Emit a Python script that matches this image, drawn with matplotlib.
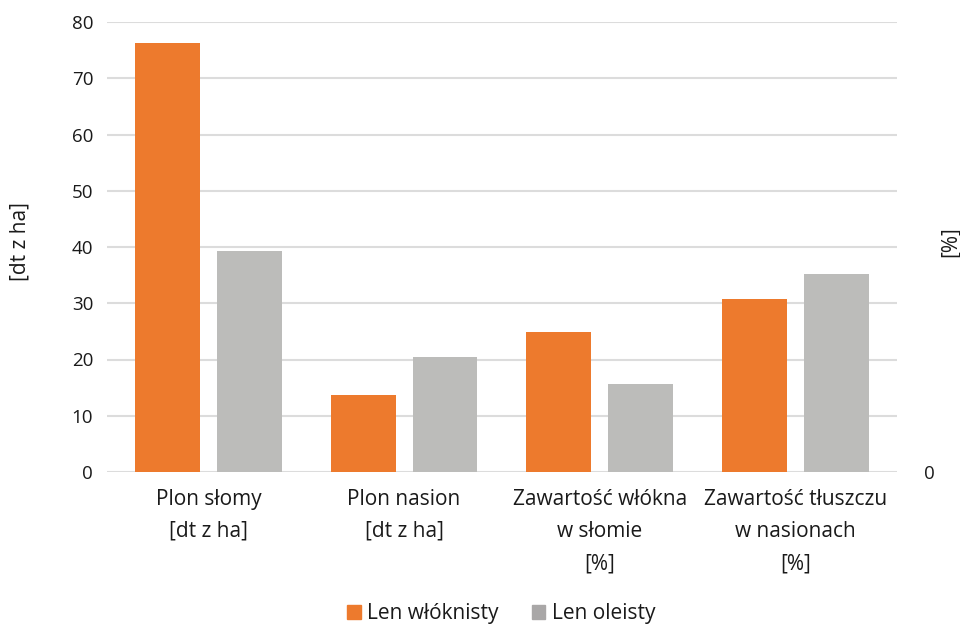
import matplotlib
matplotlib.use("Agg")
import matplotlib.pyplot as plt
from matplotlib.patches import Patch
import numpy as np

plt.rcParams['font.family'] = ['Open Sans', 'DejaVu Sans']

categories = ["Plon słomy\n[dt z ha]", "Plon nasion\n[dt z ha]",
              "Zawartość włókna\nw słomie\n[%]", "Zawartość tłuszczu\nw nasionach\n[%]"]
series_names = ["Len włóknisty", "Len oleisty"]
len_wloknisty = [76.3, 13.7, 24.9, 30.8]
len_oleisty = [39.3, 20.4, 15.6, 35.2]
yticks = [0, 10, 20, 30, 40, 50, 60, 70, 80]

orange = "#ED7A2D"
grey = "#BCBCBA"
grey_leg = "#A9A7A7"
text_c = "#1A1A1A"

fig = plt.figure(figsize=(9.6, 6.25), dpi=100)
ax = fig.add_axes([0.1115, 0.2448, 0.8225, 0.72])

x = np.arange(len(categories))
w = 0.332
off = 0.2095
ax.bar(x - off, len_wloknisty, w, color=orange, zorder=3)
ax.bar(x + off, len_oleisty, w, color=grey, zorder=3)

ax.set_xlim(-0.5185, 3.5185)
ax.set_ylim(0, 80)
ax.set_yticks(yticks)
ax.set_yticklabels([str(v) for v in yticks], fontsize=13.5, color=text_c)
ax.yaxis.grid(True, color="#DCDCDC", linewidth=1.5, zorder=0)
ax.set_axisbelow(True)
for s in ax.spines.values():
    s.set_visible(False)
ax.tick_params(axis='y', length=0, pad=10)
ax.tick_params(axis='x', length=0, pad=12)
ax.set_xticks(x)
ax.set_xticklabels(categories, fontsize=15, color=text_c, linespacing=1.7, va='top')

ax2 = ax.twinx()
ax2.set_ylim(0, 80)
ax2.set_yticks([0])
ax2.set_yticklabels(["0"], fontsize=13.5, color=text_c)
ax2.tick_params(axis='y', length=0, pad=20)
for s in ax2.spines.values():
    s.set_visible(False)

fig.text(20 / 960, 1 - 242 / 625, "[dt z ha]", rotation=90, ha='center', va='center',
         fontsize=15, color=text_c)
fig.text(950 / 960, 1 - 242 / 625, "[%]", rotation=90, ha='center', va='center',
         fontsize=15, color=text_c)

handles = [Patch(color=orange, label=series_names[0]),
           Patch(color=grey_leg, label=series_names[1])]
fig.legend(handles=handles, loc='center', bbox_to_anchor=(0.522, 0.018), ncol=2,
           frameon=False, fontsize=15, handlelength=0.65, handleheight=0.65,
           handletextpad=0.3, columnspacing=1.6, labelcolor=text_c,
           borderpad=0.0)

fig.savefig("out.png", dpi=100)
